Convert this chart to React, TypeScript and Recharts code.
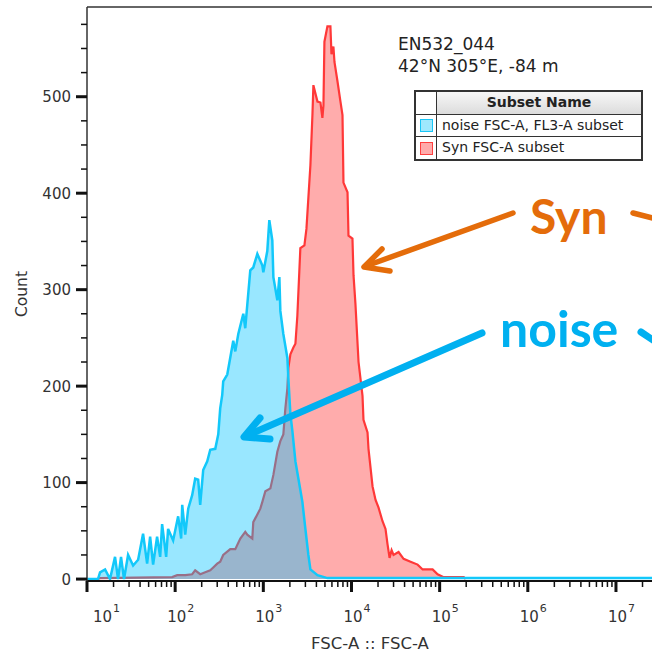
import React from 'react';
import { AreaChart, Area, XAxis, YAxis, ReferenceLine, Legend } from 'recharts';

// ---- data (x = log10 of FSC-A, y = Count) ----
const noiseX = [1.0, 1.125, 1.148, 1.205, 1.261, 1.318, 1.352, 1.386, 1.42, 1.466, 1.523, 1.58, 1.636, 1.682, 1.716, 1.75, 1.795, 1.83, 1.852, 1.898, 1.92, 1.977, 2.034, 2.068, 2.08, 2.114, 2.148, 2.193, 2.227, 2.261, 2.284, 2.318, 2.364, 2.398, 2.455, 2.489, 2.511, 2.534, 2.545, 2.591, 2.659, 2.682, 2.716, 2.773, 2.795, 2.852, 2.886, 2.932, 2.966, 2.989, 3.0, 3.045, 3.068, 3.102, 3.114, 3.159, 3.182, 3.193, 3.227, 3.273, 3.284, 3.307, 3.33, 3.364, 3.398, 3.443, 3.477, 3.511, 3.534, 3.614, 3.727, 4.5, 5.5, 6.5, 7.42];
const noiseY = [0, 0, 7, 10, 0, 23, 0, 23, 0, 25, 14, 20, 47, 16, 44, 15, 44, 23, 57, 23, 52, 40, 65, 42, 77, 46, 73, 87, 104, 103, 77, 113, 122, 134, 135, 150, 177, 191, 205, 212, 247, 236, 254, 275, 260, 320, 323, 337, 330, 325, 318, 340, 372, 351, 313, 289, 313, 278, 254, 229, 208, 171, 153, 122, 104, 80, 52, 25, 10, 4, 1, 1, 1, 1, 1];

const synX = [1.12, 1.148, 1.966, 2.023, 2.114, 2.193, 2.227, 2.284, 2.341, 2.398, 2.432, 2.477, 2.511, 2.545, 2.625, 2.682, 2.739, 2.795, 2.818, 2.875, 2.886, 2.932, 2.966, 2.989, 3.023, 3.08, 3.114, 3.159, 3.193, 3.227, 3.25, 3.273, 3.284, 3.307, 3.341, 3.364, 3.386, 3.42, 3.466, 3.489, 3.534, 3.557, 3.568, 3.614, 3.648, 3.67, 3.682, 3.693, 3.727, 3.761, 3.773, 3.795, 3.807, 3.841, 3.875, 3.898, 3.909, 3.955, 3.966, 4.011, 4.023, 4.045, 4.08, 4.125, 4.136, 4.182, 4.193, 4.239, 4.273, 4.307, 4.352, 4.386, 4.409, 4.432, 4.455, 4.477, 4.534, 4.591, 4.67, 4.75, 4.807, 4.864, 4.92, 4.977, 5.045, 5.273, 5.295];
const synY = [0, 1, 2, 4, 4, 5, 9, 5, 7, 9, 12, 16, 18, 25, 31, 31, 42, 49, 46, 42, 59, 67, 73, 80, 91, 94, 108, 132, 143, 150, 177, 198, 219, 233, 240, 244, 273, 343, 346, 363, 429, 481, 512, 495, 494, 478, 491, 557, 573, 573, 544, 552, 536, 516, 495, 481, 411, 401, 356, 353, 315, 285, 225, 190, 165, 152, 135, 96, 82, 74, 60, 52, 36, 22, 30, 25, 28, 21, 18, 15, 10, 10, 10, 5, 2, 2, 0];

const xDecades = [1, 2, 3, 4, 5, 6, 7];
const xExponentLabels = ['1', '2', '3', '4', '5', '6', '7'];
const yMajorTicks = [0, 100, 200, 300, 400, 500];
const yMinorTicks = [25, 50, 75, 125, 150, 175, 225, 250, 275, 325, 350, 375, 425, 450, 475, 525, 550, 575];

const seriesNames = ['noise FSC-A, FL3-A subset', 'Syn FSC-A subset'];
const titleLines = ['EN532_044', '42°N 305°E, -84 m'];
const annotationLabels = ['Syn', 'noise'];

const X_MIN = 1;
const X_MAX = 7.42;
const Y_MIN = -2;
const Y_MAX = 593;

// merge into one table
const allX = Array.from(new Set([...noiseX, ...synX])).sort((a, b) => a - b);
const data = allX.map((x) => {
  const row: any = { x };
  const i = noiseX.indexOf(x);
  if (i >= 0) row.noise = noiseY[i];
  const j = synX.indexOf(x);
  if (j >= 0) row.syn = synY[j];
  return row;
});

const xTicks: number[] = [];
xDecades.forEach((d) => {
  xTicks.push(d);
  for (let k = 2; k <= 9; k++) {
    const v = d + Math.log10(k);
    if (v <= X_MAX) xTicks.push(v);
  }
});
const yTicks = [...yMajorTicks, ...yMinorTicks].sort((a, b) => a - b);

const FONT = 'DejaVu Sans, sans-serif';

const XTick = (props: any) => {
  const { x, y, payload } = props;
  const v = payload.value;
  const idx = xDecades.indexOf(v);
  const major = idx >= 0;
  const shift = v === xDecades[0] ? 14 : 0;
  return (
    <g>
      <line x1={x} x2={x} y1={y} y2={y + (major ? 11 : 6)} stroke="#111" strokeWidth={major ? 3 : 1.5} />
      {major && (
        <text x={x - 8 + shift} y={y + 41} fontSize={15} fill="#333" fontFamily={FONT}>
          10
        </text>
      )}
      {major && (
        <text x={x + 12 + shift} y={y + 31} fontSize={11} fill="#333" fontFamily={FONT}>
          {xExponentLabels[idx]}
        </text>
      )}
    </g>
  );
};

const YTick = (props: any) => {
  const { x, y, payload } = props;
  const v = payload.value;
  const major = yMajorTicks.includes(v);
  return (
    <g>
      <line x1={x - (major ? 11 : 6)} x2={x} y1={y} y2={y} stroke="#111" strokeWidth={major ? 3 : 1.5} />
      {major && (
        <text x={x - 16} y={y + 5.5} textAnchor="end" fontSize={15} fill="#333" fontFamily={FONT}>
          {v}
        </text>
      )}
    </g>
  );
};

const legendRows = [
  { name: seriesNames[0], fill: '#9fe8fd', border: '#19c6f7' },
  { name: seriesNames[1], fill: '#ffabab', border: '#ff4040' },
];

const LegendTable = () => (
  <div
    style={{
      width: 229,
      boxSizing: 'border-box',
      border: '2px solid #333',
      background: '#fff',
      fontFamily: FONT,
      fontSize: 14,
      color: '#222',
    }}
  >
    <div style={{ display: 'flex', height: 23, borderBottom: '1.5px solid #333', boxSizing: 'border-box' }}>
      <div style={{ width: 20, borderRight: '1.5px solid #333' }} />
      <div
        style={{
          flex: 1,
          background: 'linear-gradient(#f7f7f7, #dcdcdc)',
          fontWeight: 'bold',
          fontSize: 14,
          textAlign: 'center',
          lineHeight: '21px',
        }}
      >
        Subset Name
      </div>
    </div>
    {legendRows.map((r, i) => (
      <div
        key={r.name}
        style={{
          display: 'flex',
          height: 22,
          boxSizing: 'border-box',
          borderBottom: i === 0 ? '1.5px solid #333' : 'none',
        }}
      >
        <div
          style={{
            width: 20,
            borderRight: '1.5px solid #333',
            display: 'flex',
            alignItems: 'center',
            justifyContent: 'center',
          }}
        >
          <div style={{ width: 11, height: 11, background: r.fill, border: `1.5px solid ${r.border}` }} />
        </div>
        <div style={{ paddingLeft: 5, lineHeight: '21px', whiteSpace: 'nowrap' }}>{r.name}</div>
      </div>
    ))}
  </div>
);

export default function App() {
  return (
    <div
      style={{
        position: 'absolute',
        left: 0,
        top: 0,
        width: 652,
        height: 653,
        overflow: 'hidden',
        background: '#fff',
      }}
    >
      <AreaChart width={653} height={653} data={data} margin={{ top: 7, right: 0, bottom: 0, left: 0 }}>
        <XAxis
          dataKey="x"
          type="number"
          domain={[X_MIN, X_MAX]}
          allowDataOverflow
          ticks={xTicks}
          interval={0}
          tick={<XTick />}
          tickLine={false}
          tickSize={0}
          tickMargin={0}
          height={72}
          axisLine={{ stroke: '#111', strokeWidth: 2 }}
          label={{
            value: 'FSC-A :: FSC-A',
            position: 'insideBottom',
            offset: 4,
            fill: '#333',
            fontSize: 16.5,
            fontFamily: FONT,
          }}
        />
        <YAxis
          type="number"
          domain={[Y_MIN, Y_MAX]}
          allowDataOverflow
          ticks={yTicks}
          interval={0}
          tick={<YTick />}
          tickLine={false}
          tickSize={0}
          tickMargin={0}
          width={87}
          axisLine={{ stroke: '#333', strokeWidth: 1.5 }}
          label={{
            value: 'Count',
            angle: -90,
            position: 'insideLeft',
            offset: 21,
            fill: '#333',
            fontSize: 15.5,
            fontFamily: FONT,
            style: { textAnchor: 'middle' },
          }}
        />
        <ReferenceLine y={Y_MAX} stroke="#333" strokeWidth={1.5} />
        <Area
          dataKey="syn"
          name={seriesNames[1]}
          type="linear"
          stroke="#ff3838"
          strokeWidth={2.2}
          fill="#ff4848"
          fillOpacity={0.45}
          connectNulls
          dot={false}
          activeDot={false}
          isAnimationActive={false}
        />
        <Area
          dataKey="noise"
          name={seriesNames[0]}
          type="linear"
          stroke="#12c8fa"
          strokeWidth={2.5}
          fill="#00c2ff"
          fillOpacity={0.4}
          connectNulls
          dot={false}
          activeDot={false}
          isAnimationActive={false}
        />
        <Legend
          layout="vertical"
          align="center"
          verticalAlign="middle"
          content={<LegendTable />}
          wrapperStyle={{ left: 414, top: 90, width: 229 }}
        />
      </AreaChart>
      <svg
        width={652}
        height={653}
        style={{ position: 'absolute', left: 0, top: 0, pointerEvents: 'none' }}
      >
        <text x={398} y={50} fontSize={17} fill="#222" fontFamily={FONT}>
          {titleLines[0]}
        </text>
        <text x={398} y={72} fontSize={17} fill="#222" fontFamily={FONT}>
          {titleLines[1]}
        </text>
        {/* Syn arrow */}
        <g stroke="#E46C0A" strokeWidth={5.5} strokeLinecap="round" strokeLinejoin="round" fill="none">
          <line x1={513} y1={213} x2={366} y2={266} />
          <polyline points="382,249 364,267 390,271" />
          <line x1={633} y1={213} x2={660} y2={220} />
        </g>
        <text x={530} y={234} fontSize={48} fontWeight="bold" fill="#E46C0A" fontFamily="Lato, sans-serif">
          {annotationLabels[0]}
        </text>
        {/* noise arrow */}
        <g stroke="#00B0F0" strokeWidth={7} strokeLinecap="round" strokeLinejoin="round" fill="none">
          <line x1={482} y1={333} x2={246} y2={436} />
          <polyline points="260,418 244,437 270,439" />
          <line x1={641} y1={332} x2={665} y2={348} />
        </g>
        <text x={500} y={347} fontSize={50} fontWeight="bold" fill="#00B0F0" fontFamily="Lato, sans-serif">
          {annotationLabels[1]}
        </text>
      </svg>
    </div>
  );
}
